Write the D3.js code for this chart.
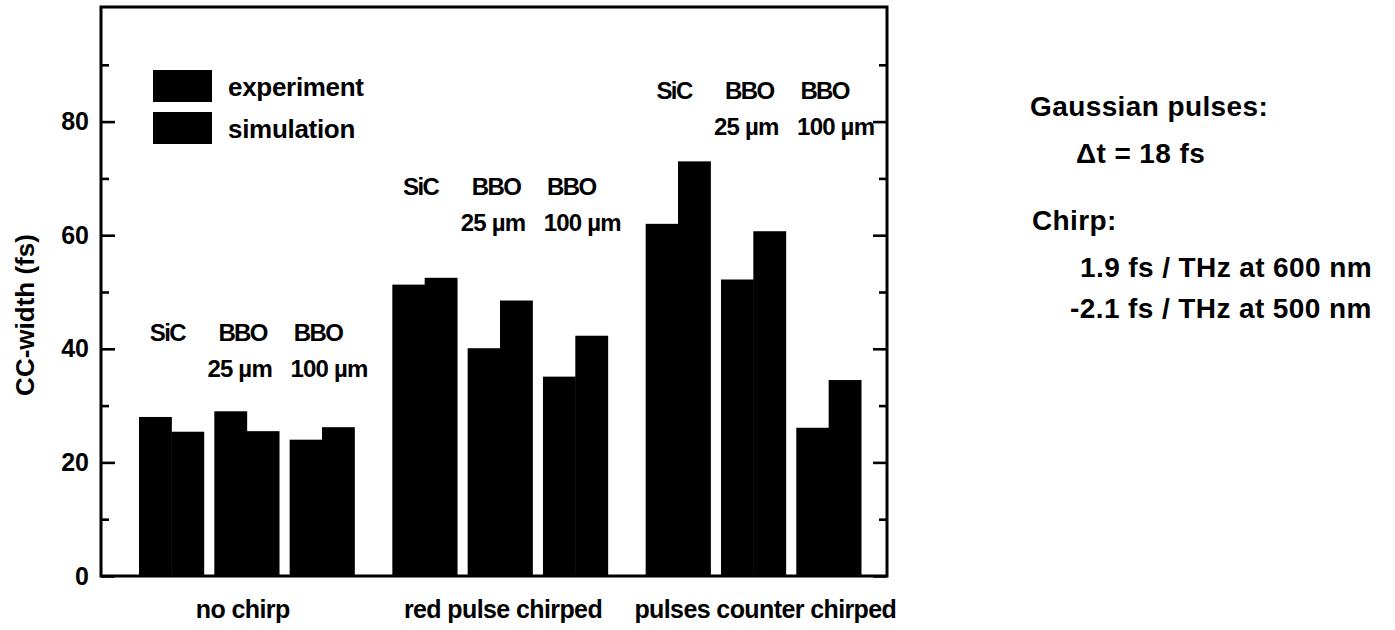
<!DOCTYPE html>
<html><head><meta charset="utf-8">
<script src="https://cdn.jsdelivr.net/npm/d3@7"></script>
<style>
body{margin:0;background:#fff}
text{font-family:"Liberation Sans",Arial,Helvetica,sans-serif;fill:#000;font-weight:bold}
</style>
</head><body>
<svg id="c" width="1395" height="630"></svg>
<script>
// ---------------- data ----------------
const groups = ["no chirp", "red pulse chirped", "pulses counter chirped"];
const materials = ["SiC", "BBO 25 µm", "BBO 100 µm"];
const materialNames = ["SiC", "BBO", "BBO"];
const thicknessLabels = ["", "25 µm", "100 µm"];
const seriesNames = ["experiment", "simulation"];
const experiment = [[28, 29, 24], [51.3, 40.1, 35.1], [62, 52.2, 26.1]];
const simulation = [[25.4, 25.5, 26.2], [52.5, 48.5, 42.3], [73, 60.7, 34.5]];
const yMajorTicks = [0, 20, 40, 60, 80];
const yMinorTicks = [10, 30, 50, 70, 90];
const yLabel = "CC-width (fs)";
const notes = ["Gaussian pulses:", "Δt = 18 fs", "Chirp:", "1.9 fs / THz at 600 nm", "-2.1 fs / THz at 500 nm"];

// ---------------- layout ----------------
const L = 101, R = 887, T = 7, B = 576;
const svg = d3.select("#c");
const y = d3.scaleLinear().domain([0, 100]).range([B, 8]);
const x0 = d3.scaleBand().domain(groups).range([139, 861]).paddingInner(0.15).paddingOuter(0);
const x1 = d3.scaleBand().domain(materials).range([0, x0.bandwidth()]).paddingInner(0.141);
const x2 = d3.scaleBand().domain(seriesNames).range([0, x1.bandwidth()]);

// bars
const barData = [];
groups.forEach((g, gi) => materials.forEach((m, mi) => {
  barData.push({g, m, s: "experiment", v: experiment[gi][mi]});
  barData.push({g, m, s: "simulation", v: simulation[gi][mi]});
}));
svg.append("g").selectAll("rect").data(barData).join("rect")
  .attr("x", d => x0(d.g) + x1(d.m) + x2(d.s))
  .attr("width", x2.bandwidth() + 0.5)
  .attr("y", d => y(d.v))
  .attr("height", d => y(0) - y(d.v))
  .attr("fill", "#000");

// axes (inward ticks)
const gl = svg.append("g").attr("transform", `translate(${L},0)`);
gl.call(d3.axisLeft(y).tickValues(yMajorTicks).tickSizeInner(-14).tickSizeOuter(0).tickPadding(12).tickFormat(d3.format("d")));
const glm = svg.append("g").attr("transform", `translate(${L},0)`);
glm.call(d3.axisLeft(y).tickValues(yMinorTicks).tickSizeInner(-8).tickSizeOuter(0).tickFormat(""));
const gr = svg.append("g").attr("transform", `translate(${R},0)`);
gr.call(d3.axisRight(y).tickValues(yMajorTicks).tickSizeInner(-14).tickSizeOuter(0).tickFormat(""));
const grm = svg.append("g").attr("transform", `translate(${R},0)`);
grm.call(d3.axisRight(y).tickValues(yMinorTicks).tickSizeInner(-8).tickSizeOuter(0).tickFormat(""));
svg.selectAll(".domain").remove();
svg.selectAll(".tick line").attr("stroke", "#000").attr("stroke-width", 2.6);
gl.selectAll(".tick text").attr("font-size", 25).attr("font-family", "Liberation Sans, Arial, sans-serif")
  .attr("font-weight", "bold").attr("fill", "#000");

// frame
svg.append("rect").attr("x", L).attr("y", T).attr("width", R - L).attr("height", B - T)
  .attr("fill", "none").attr("stroke", "#000").attr("stroke-width", 3);

// y label
svg.append("text").attr("transform", `translate(34,${315}) rotate(-90)`)
  .attr("text-anchor", "middle").attr("font-size", 26).text(yLabel);

// group labels
svg.append("g").selectAll("text").data(groups).join("text")
  .attr("x", (d, i) => x0(d) + x0.bandwidth() / 2 + (i === 2 ? 12 : i === 0 ? -4 : 3)).attr("y", 618)
  .attr("text-anchor", "middle").attr("font-size", 25).attr("letter-spacing", -0.6)
  .text(d => d);

// material annotations above each group
const annotLevel = [41.4, 67.0, 83.9];
const thickShift = [0, -7, 7];
groups.forEach((g, gi) => {
  materials.forEach((m, mi) => {
    const cx = x0(g) + x1(m) + x1.bandwidth() / 2;
    svg.append("text").attr("x", cx - 4).attr("y", y(annotLevel[gi]))
      .attr("text-anchor", "middle").attr("font-size", 24).attr("letter-spacing", -1.6)
      .text(materialNames[mi]);
    if (thicknessLabels[mi]) {
      svg.append("text").attr("x", cx + thickShift[mi]).attr("y", y(annotLevel[gi]) + 36)
        .attr("text-anchor", "middle").attr("font-size", 24).attr("letter-spacing", -0.8)
        .text(thicknessLabels[mi]);
    }
  });
});

// legend
const lg = svg.append("g").attr("transform", "translate(153,70)");
seriesNames.forEach((s, i) => {
  lg.append("rect").attr("x", 0).attr("y", i * 42).attr("width", 59).attr("height", 32).attr("fill", "#000");
  lg.append("text").attr("x", 75).attr("y", i * 42 + 26).attr("font-size", 26).attr("letter-spacing", -0.3).text(s);
});

// notes on the right
const noteX = [1030, 1076, 1032, 1080, 1070];
const noteY = [116, 163, 230, 277, 318];
svg.append("g").selectAll("text").data(notes).join("text")
  .attr("x", (d, i) => noteX[i]).attr("y", (d, i) => noteY[i])
  .attr("font-size", 28).attr("letter-spacing", 0.4).text(d => d);
</script>
</body></html>
